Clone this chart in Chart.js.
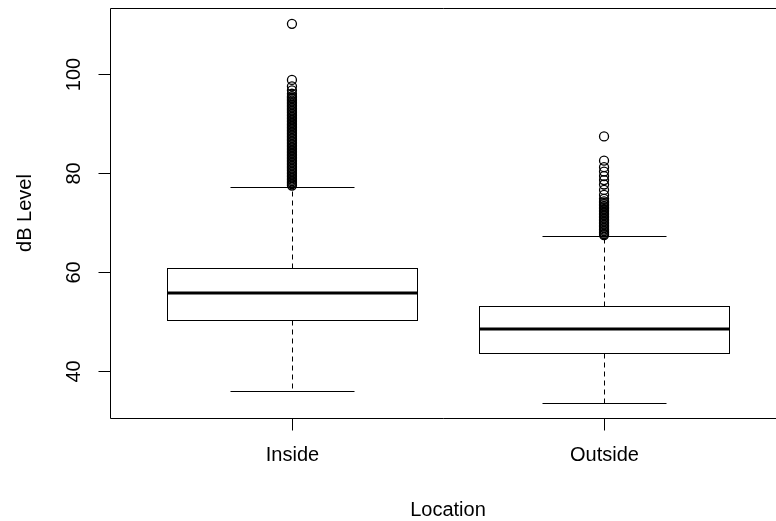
<!DOCTYPE html>
<html>
<head>
<meta charset="utf-8">
<script src="https://cdn.jsdelivr.net/npm/chart.js@4/dist/chart.umd.min.js"></script>
<style>
  html, body { margin: 0; padding: 0; background: #fff; }
  #chart { display: block; }
</style>
</head>
<body>
<canvas id="chart" width="776" height="521"></canvas>
<script>
// categories and five-number summaries
const locations = ['Inside', 'Outside'];
const lowerWhisker = [36.0, 33.7];
const q1 = [50.3, 43.8];
const median = [55.8, 48.5];
const q3 = [60.8, 53.1];
const upperWhisker = [77.2, 67.3];

// outliers (above upper whisker), many overlap in the dense part
const insideOutliers = [110.1, 98.8, 97.5, 96.7, 96.0, 95.5, 95.2, 94.9, 94.6, 94.3, 94.0,
  93.7, 93.4, 93.1, 92.8, 92.5, 92.2, 91.9, 91.6, 91.3, 91.0, 90.7, 90.4, 90.1, 89.8, 89.5,
  89.2, 88.9, 88.6, 88.3, 88.0, 87.7, 87.4, 87.1, 86.8, 86.5, 86.2, 85.9, 85.6, 85.3, 85.0,
  84.7, 84.4, 84.1, 83.8, 83.5, 83.2, 82.9, 82.6, 82.3, 82.0, 81.7, 81.4, 81.1, 80.8, 80.5,
  80.2, 79.9, 79.6, 79.3, 79.0, 78.7, 78.4, 78.1, 77.8, 77.5];
const outsideOutliers = [87.4, 82.5, 81.2, 80.3, 79.4, 78.6, 77.7, 76.6, 75.6, 74.8, 74.3,
  74.0, 73.7, 73.4, 73.1, 72.8, 72.5, 72.2, 71.9, 71.6, 71.3, 71.0, 70.7, 70.4, 70.1, 69.8,
  69.5, 69.2, 68.9, 68.6, 68.3, 68.0, 67.7, 67.5];

const yTicks = [40, 60, 80, 100];
const yTitle = 'dB Level';
const xTitle = 'Location';

const FONT = '20px "Liberation Sans", Arial, sans-serif';
const INK = '#000';

const boxPlugin = {
  id: 'boxes',
  beforeDatasetsDraw(chart) {
    const ctx = chart.ctx;
    const x = chart.scales.x;
    const y = chart.scales.y;
    const px = v => Math.round(y.getPixelForValue(v)) + 0.5;
    ctx.save();
    ctx.strokeStyle = INK;
    locations.forEach((name, i) => {
      const c = Math.round(x.getPixelForValue(i + 1)) + 0.5;
      const bl = Math.round(x.getPixelForValue(i + 1 - 0.4)) + 0.5;
      const br = Math.round(x.getPixelForValue(i + 1 + 0.4)) + 0.5;
      const sl = Math.round(x.getPixelForValue(i + 1 - 0.2)) + 0.5;
      const sr = Math.round(x.getPixelForValue(i + 1 + 0.2)) + 0.5;

      // whiskers
      ctx.lineWidth = 1;
      ctx.setLineDash([5, 4]);
      ctx.beginPath();
      ctx.moveTo(c, px(q3[i])); ctx.lineTo(c, px(upperWhisker[i]));
      ctx.moveTo(c, px(q1[i])); ctx.lineTo(c, px(lowerWhisker[i]));
      ctx.stroke();
      ctx.setLineDash([]);

      // staples
      ctx.beginPath();
      ctx.moveTo(sl, px(upperWhisker[i])); ctx.lineTo(sr, px(upperWhisker[i]));
      ctx.moveTo(sl, px(lowerWhisker[i])); ctx.lineTo(sr, px(lowerWhisker[i]));
      ctx.stroke();

      // box
      ctx.fillStyle = '#fff';
      ctx.fillRect(bl, px(q3[i]), br - bl, px(q1[i]) - px(q3[i]));
      ctx.strokeRect(bl, px(q3[i]), br - bl, px(q1[i]) - px(q3[i]));

      // median
      ctx.lineWidth = 3;
      ctx.beginPath();
      const m = Math.round(y.getPixelForValue(median[i]));
      ctx.moveTo(bl, m); ctx.lineTo(br, m);
      ctx.stroke();
    });
    ctx.restore();
  },
  afterDraw(chart) {
    const ctx = chart.ctx;
    const a = chart.chartArea;
    const x = chart.scales.x;
    const y = chart.scales.y;
    ctx.save();
    ctx.strokeStyle = INK;
    ctx.lineWidth = 1;

    // plot frame (right side falls outside the picture)
    const L = Math.round(a.left) + 0.5, T = Math.round(a.top) + 0.5, B = Math.round(a.bottom) + 0.5;
    ctx.beginPath();
    ctx.moveTo(chart.width, T); ctx.lineTo(L, T); ctx.lineTo(L, B); ctx.lineTo(chart.width, B);
    ctx.stroke();

    ctx.fillStyle = INK;
    ctx.font = FONT;
    ctx.textAlign = 'center';
    ctx.textBaseline = 'middle';

    // y ticks, labels rotated like R's default
    yTicks.forEach(t => {
      const p = Math.round(y.getPixelForValue(t)) + 0.5;
      ctx.beginPath();
      ctx.moveTo(L, p); ctx.lineTo(L - 12, p);
      ctx.stroke();
      ctx.save();
      ctx.translate(74, p);
      ctx.rotate(-Math.PI / 2);
      ctx.fillText(String(t), 0, 0);
      ctx.restore();
    });

    // x ticks and category labels
    locations.forEach((name, i) => {
      const p = Math.round(x.getPixelForValue(i + 1)) + 0.5;
      ctx.beginPath();
      ctx.moveTo(p, B); ctx.lineTo(p, B + 12);
      ctx.stroke();
      ctx.fillText(name, p, 455);
    });

    // axis titles
    ctx.fillText(xTitle, x.getPixelForValue(1.5), 510);
    ctx.save();
    ctx.translate(25, (a.top + a.bottom) / 2);
    ctx.rotate(-Math.PI / 2);
    ctx.fillText(yTitle, 0, 0);
    ctx.restore();
    ctx.restore();
  }
};

const toPoints = (vals, xPos) => vals.map(v => ({ x: xPos, y: v }));

new Chart(document.getElementById('chart'), {
  type: 'scatter',
  data: {
    datasets: [
      { label: locations[0], data: toPoints(insideOutliers, 1) },
      { label: locations[1], data: toPoints(outsideOutliers, 2) }
    ]
  },
  options: {
    responsive: false,
    animation: false,
    devicePixelRatio: 1,
    layout: { autoPadding: false, padding: { left: 110, top: 8, right: 0, bottom: 103 } },
    elements: {
      point: {
        pointStyle: 'circle',
        radius: 4.5,
        borderWidth: 1.3,
        borderColor: INK,
        backgroundColor: 'rgba(0,0,0,0)'
      }
    },
    scales: {
      x: { type: 'linear', min: 0.417, max: 2.551, display: false },
      y: { type: 'linear', min: 30.6, max: 113.3, display: false }
    },
    plugins: {
      legend: { display: false },
      tooltip: { enabled: false }
    }
  },
  plugins: [boxPlugin]
});
</script>
</body>
</html>
